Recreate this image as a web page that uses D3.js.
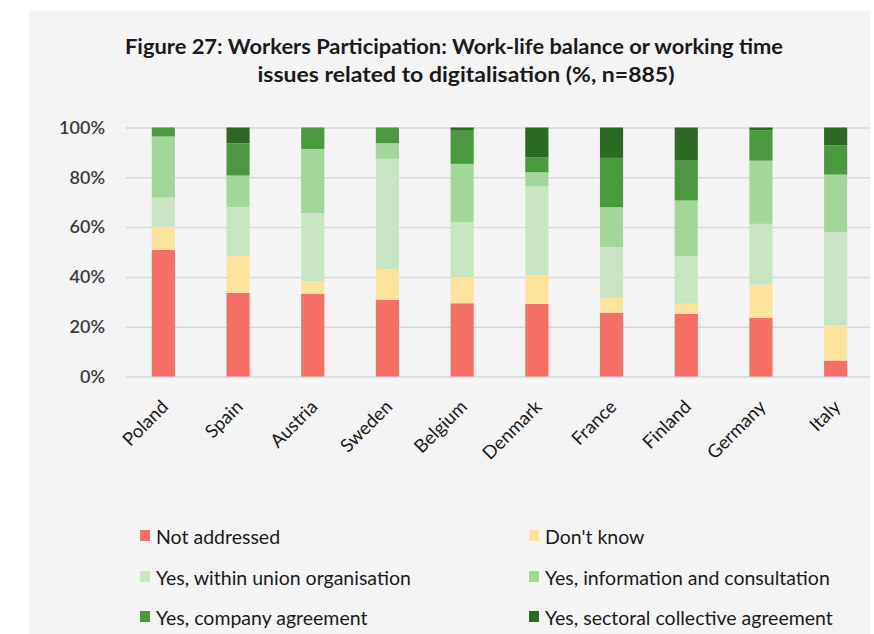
<!DOCTYPE html>
<html><head><meta charset="utf-8">
<script src="https://cdn.jsdelivr.net/npm/d3@7"></script>
<style>body{margin:0;background:#fff;} svg{display:block;}</style>
</head><body>
<svg id="chart" width="874" height="634"></svg>
<script>
const countries = ["Poland","Spain","Austria","Sweden","Belgium","Denmark","France","Finland","Germany","Italy"];
const seriesNames = ["Not addressed","Don't know","Yes, within union organisation","Yes, information and consultation","Yes, company agreement","Yes, sectoral collective agreement"];
const notAddressed = [50.9,33.6,33.2,30.9,29.4,29.2,25.6,25.2,23.6,6.4];
const dontKnow     = [9.3,14.7,5.0,12.3,10.5,11.6,6.0,4.0,13.3,14.1];
const unionOrg     = [11.6,19.7,27.4,44.2,22.1,35.6,20.3,19.1,24.4,37.5];
const infoConsult  = [24.6,12.7,25.8,6.3,23.4,5.6,16.1,22.4,25.4,23.1];
const companyAgr   = [3.6,13.0,8.6,6.3,13.6,6.1,19.8,16.0,12.1,11.7];
const sectoralAgr  = [0,6.3,0,0,1.0,11.9,12.2,13.3,1.2,7.2];
const yTicks = [0,20,40,60,80,100];
const colors = ["#f46f66","#fde39c","#c8e6c2","#a2d799","#4a993f","#2a6a22"];

const seriesData = [notAddressed,dontKnow,unionOrg,infoConsult,companyAgr,sectoralAgr];
const rows = countries.map((c,i)=>{const r={country:c}; seriesNames.forEach((s,k)=>r[s]=seriesData[k][i]); return r;});
const stacked = d3.stack().keys(seriesNames)(rows);

const svg = d3.select("#chart");
const font = "Lato, 'Open Sans', sans-serif";
svg.append("rect").attr("x",0).attr("y",0).attr("width",874).attr("height",634).attr("fill","#fff");
svg.append("rect").attr("x",29).attr("y",11).attr("width",841).attr("height",623).attr("fill","#f5f4f5");

const x = d3.scaleBand().domain(countries).range([126,873]).paddingInner(0.69).paddingOuter(0.345);
const y = d3.scaleLinear().domain([0,100]).range([376.5,127.5]);

// title
const title = svg.append("text").attr("text-anchor","middle").attr("font-family",font).attr("font-weight","bold").attr("font-size",20).attr("fill","#1a1a1a");
title.append("tspan").attr("x",454).attr("y",54).attr("textLength",658).attr("lengthAdjust","spacingAndGlyphs").text("Figure 27: Workers Participation: Work-life balance or working time");
title.append("tspan").attr("x",466).attr("y",82).attr("textLength",417).attr("lengthAdjust","spacingAndGlyphs").text("issues related to digitalisation (%, n=885)");

// grid
const yAxis = d3.axisLeft(y).tickValues(yTicks).tickFormat(d=>d+"%").tickSize(-(870-126)).tickPadding(21);
const ga = svg.append("g").attr("transform","translate(126,0)").call(yAxis);
ga.select(".domain").remove();
ga.selectAll(".tick line").attr("stroke","#d9d9d9").attr("stroke-width",1.5);
ga.selectAll(".tick text").attr("font-family",font).attr("font-size",18).attr("fill","#3a3a3a").attr("font-weight","600");

// bars
svg.append("g").selectAll("g").data(stacked).join("g").attr("fill",(d,i)=>colors[i])
  .selectAll("rect").data(d=>d).join("rect")
  .attr("x",d=>x(d.data.country)).attr("width",x.bandwidth())
  .attr("y",d=>y(d[1])).attr("height",d=>y(d[0])-y(d[1]));

// x labels
const xAxis = d3.axisBottom(x).tickSize(0).tickPadding(0);
const gx = svg.append("g").call(xAxis);
gx.select(".domain").remove();
gx.selectAll(".tick").attr("transform",null);
gx.selectAll(".tick text")
  .attr("font-family",font).attr("font-size",18.5).attr("fill","#1a1a1a")
  .attr("text-anchor","end").attr("dy",0).attr("y",0).attr("x",0)
  .attr("transform",d=>`translate(${x(d)+x.bandwidth()/2+6},${408}) rotate(-45)`);

// legend
const legPos = [[140,537],[529,537],[140,578],[529,578],[140,618],[529,618]];
const leg = svg.append("g").selectAll("g").data(seriesNames).join("g")
  .attr("transform",(d,i)=>`translate(${legPos[i][0]},${legPos[i][1]})`);
leg.append("rect").attr("x",0).attr("y",-7).attr("width",10).attr("height",11).attr("fill",(d,i)=>colors[i]);
leg.append("text").attr("x",16).attr("y",7).attr("font-family",font).attr("font-size",19.5).attr("fill","#1a1a1a").text(d=>d);
</script>
</body></html>
